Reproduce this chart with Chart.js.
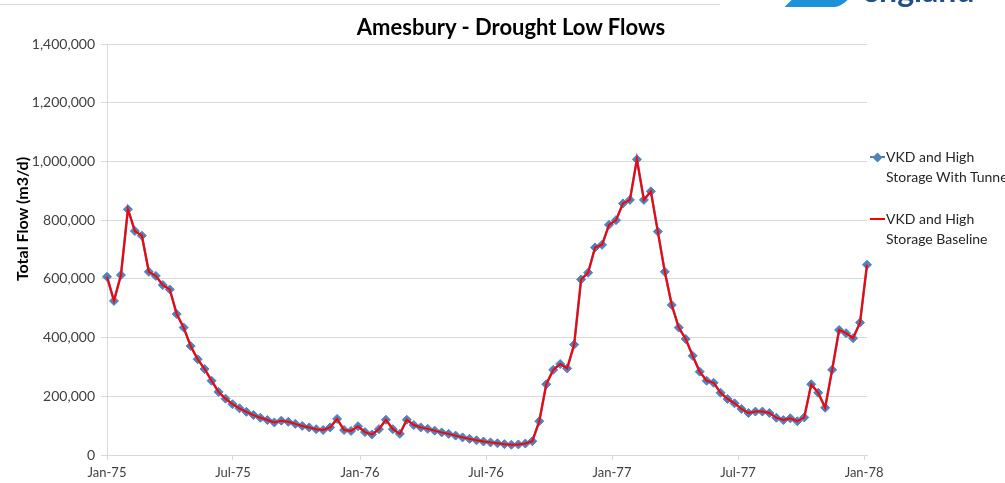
<!DOCTYPE html>
<html>
<head>
<meta charset="utf-8">
<script src="https://cdn.jsdelivr.net/npm/chart.js@4.4.1/dist/chart.umd.min.js"></script>
<style>
  html, body { margin: 0; padding: 0; background: #fff; overflow: hidden; width: 1005px; height: 483px; }
  #wrap { position: relative; width: 1005px; height: 483px; overflow: hidden; font-family: Lato, "Open Sans", sans-serif; }
  #c { position: absolute; left: 0; top: 0; }
  #title { position: absolute; left: 261px; width: 500px; top: 12px; text-align: center; font-weight: bold; font-size: 22px; line-height: 30px; color: #000; }
  #ytitle { position: absolute; left: -78px; top: 209px; width: 200px; height: 20px; line-height: 20px; text-align: center; font-weight: bold; font-size: 16px; color: #000; transform: rotate(-90deg); transform-origin: 50% 50%; white-space: nowrap; }
  .lgtext { position: absolute; left: 886px; font-size: 14px; line-height: 20px; color: #262626; white-space: nowrap; }
  .lgline { position: absolute; left: 870px; width: 15px; height: 2px; }
  #diam { position: absolute; left: 874px; top: 153.5px; width: 7px; height: 7px; background: #4F81BD; transform: rotate(45deg); }
  #frame { position: absolute; left: 0; top: 4px; width: 720px; height: 1px; background: #D9D9D9; }
  #swoosh { position: absolute; left: 792px; top: -8px; width: 56px; height: 15px; background: #1E92D8; transform: skewX(-45deg); border-radius: 0 0 6px 0; }
  #logo { position: absolute; left: 862px; top: -26px; font-size: 32px; line-height: 32px; font-weight: bold; color: #1F4E8C; white-space: nowrap; }
</style>
</head>
<body>
<div id="wrap">
  <canvas id="c" width="1005" height="483"></canvas>
  <div id="frame"></div>
  <div id="swoosh"></div>
  <div id="logo">england</div>
  <div id="title">Amesbury - Drought Low Flows</div>
  <div id="ytitle">Total Flow (m3/d)</div>
  <div class="lgline" style="top:156px;background:#4F81BD;"></div>
  <div id="diam"></div>
  <div class="lgtext" style="top:147px;">VKD and High<br>Storage With Tunnel</div>
  <div class="lgline" style="top:218px;background:#FF0000;"></div>
  <div class="lgtext" style="top:209px;">VKD and High<br>Storage Baseline</div>
</div>
<script>
// ---- Data (roughly 10-day steps, Jan-75 to Jan-78) ----
const seriesNames = ["VKD and High Storage With Tunnel", "VKD and High Storage Baseline"];

const tunnelFlow = [
  607000, 525000, 613000, 837000, 763000, 747000, 624000, 610000, 579000, 564000,
  480000, 434000, 371000, 326000, 293000, 253000, 215000, 192000, 173000, 159000,
  147000, 136000, 127000, 119000, 111000, 117000, 113000, 106000, 99000, 94000,
  88000, 85000, 94000, 123000, 85000, 82000, 98000, 78000, 70000, 88000,
  120000, 88000, 72000, 120000, 102000, 94000, 89000, 83000, 77000, 72000,
  66000, 60000, 55000, 50000, 46000, 43000, 40000, 37000, 35000, 36000,
  39000, 47000, 115000, 241000, 290000, 310000, 295000, 376000, 598000, 621000,
  707000, 716000, 784000, 800000, 857000, 869000, 1007000, 869000, 898000, 761000,
  624000, 511000, 434000, 395000, 338000, 284000, 253000, 246000, 212000, 191000,
  176000, 157000, 143000, 148000, 148000, 143000, 127000, 119000, 125000, 115000,
  128000, 241000, 212000, 161000, 290000, 426000, 415000, 398000, 451000, 648000
];

const baselineFlow = [
  607000, 525000, 613000, 837000, 763000, 747000, 624000, 610000, 579000, 564000,
  480000, 434000, 371000, 326000, 293000, 253000, 215000, 192000, 173000, 159000,
  147000, 136000, 127000, 119000, 111000, 117000, 113000, 106000, 99000, 94000,
  88000, 85000, 94000, 123000, 85000, 82000, 98000, 78000, 70000, 88000,
  120000, 88000, 72000, 120000, 102000, 94000, 89000, 83000, 77000, 72000,
  66000, 60000, 55000, 50000, 46000, 43000, 40000, 37000, 35000, 36000,
  39000, 47000, 115000, 241000, 290000, 310000, 295000, 376000, 598000, 621000,
  707000, 716000, 784000, 800000, 857000, 869000, 1007000, 869000, 898000, 761000,
  624000, 511000, 434000, 395000, 338000, 284000, 253000, 246000, 212000, 191000,
  176000, 157000, 143000, 148000, 148000, 143000, 127000, 119000, 125000, 115000,
  128000, 241000, 212000, 161000, 290000, 426000, 415000, 398000, 451000, 648000
];

// x tick labels and where they fall, in point-index units
const tickLabels = ["Jan-75", "Jul-75", "Jan-76", "Jul-76", "Jan-77", "Jul-77", "Jan-78"];
const tickPos = [0, 18.07, 36.29, 54.36, 72.43, 90.5, 108.58];

const yMax = 1400000;
const yStep = 200000;

const toPoints = arr => arr.map((v, i) => ({ x: i, y: v }));

new Chart(document.getElementById('c'), {
  type: 'line',
  data: {
    datasets: [
      {
        label: seriesNames[0],
        data: toPoints(tunnelFlow),
        borderColor: '#4F81BD',
        backgroundColor: '#4F81BD',
        borderWidth: 2.5,
        pointStyle: 'rectRot',
        pointRadius: 4.5,
        pointBorderWidth: 1,
        pointBackgroundColor: '#4F81BD',
        pointBorderColor: '#4F81BD',
        tension: 0,
        clip: false,
        order: 2
      },
      {
        label: seriesNames[1],
        data: toPoints(baselineFlow),
        borderColor: '#FF0000',
        backgroundColor: '#FF0000',
        borderWidth: 2,
        pointRadius: 0,
        tension: 0,
        clip: false,
        order: 1
      }
    ]
  },
  options: {
    responsive: false,
    animation: false,
    devicePixelRatio: 1,
    layout: { padding: { left: 0, right: 138, top: 44, bottom: 0 } },
    plugins: {
      legend: { display: false },
      tooltip: { enabled: false },
      title: { display: false }
    },
    scales: {
      x: {
        type: 'linear',
        min: 0,
        max: tunnelFlow.length - 1,
        afterBuildTicks: axis => { axis.ticks = tickPos.map(v => ({ value: v })); },
        afterFit: s => { s.height = 28; },
        ticks: {
          autoSkip: false,
          maxRotation: 0,
          padding: 5,
          color: '#404040',
          font: { family: 'Lato', size: 13 },
          callback: v => {
            const k = tickPos.indexOf(v);
            return k >= 0 ? tickLabels[k] : '';
          }
        },
        grid: { drawOnChartArea: false, drawTicks: true, tickLength: 5, color: '#D9D9D9' },
        border: { display: true, color: '#D9D9D9' }
      },
      y: {
        min: 0,
        max: yMax,
        afterFit: s => { s.width = 107; },
        ticks: {
          stepSize: yStep,
          padding: 6,
          color: '#404040',
          font: { family: 'Lato', size: 14 },
          callback: v => Number(v).toLocaleString('en-US')
        },
        grid: { color: '#D9D9D9', tickLength: 6 },
        border: { display: true, color: '#D9D9D9' }
      }
    }
  }
});
</script>
</body>
</html>
